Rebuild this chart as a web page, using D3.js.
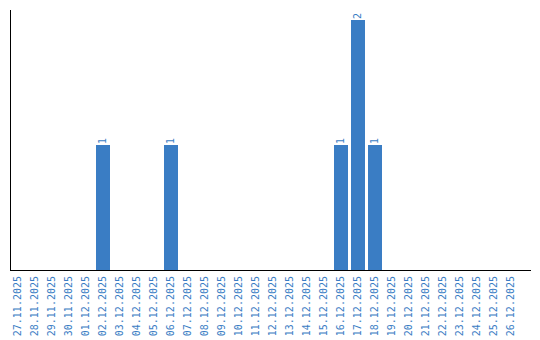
<!DOCTYPE html>
<html>
<head>
<meta charset="utf-8">
<script src="https://cdn.jsdelivr.net/npm/d3@7"></script>
<style>
  body { margin: 0; background: #fff; }
  text { font-family: "DejaVu Sans Mono", monospace; font-size: 10px; fill: #3a7dc4; }
</style>
</head>
<body>
<div id="chart"></div>
<script>
const dates = ["27.11.2025","28.11.2025","29.11.2025","30.11.2025","01.12.2025","02.12.2025",
  "03.12.2025","04.12.2025","05.12.2025","06.12.2025","07.12.2025","08.12.2025","09.12.2025",
  "10.12.2025","11.12.2025","12.12.2025","13.12.2025","14.12.2025","15.12.2025","16.12.2025",
  "17.12.2025","18.12.2025","19.12.2025","20.12.2025","21.12.2025","22.12.2025","23.12.2025",
  "24.12.2025","25.12.2025","26.12.2025"];
const counts = [0,0,0,0,0,1,0,0,0,1,0,0,0,0,0,0,0,0,0,1,2,1,0,0,0,0,0,0,0,0];

function init(){
    const width = 540, height = 340;
    const left = 11, right = 531, top = 10, bottom = 270;

    const svg = d3.select("#chart")
                  .append("svg")
                  .attr("width", width)
                  .attr("height", height);

    const data = dates.map((d, i) => ({ date: d, value: counts[i] }));

    const xScale = d3.scaleBand()
                     .domain(dates)
                     .range([left, right])
                     .paddingInner(3 / 17)
                     .paddingOuter(0.38235)
                     .align(0);

    const yScale = d3.scaleLinear()
                     .domain([0, 2.08])
                     .range([bottom, top]);

    // Bars
    svg.selectAll(".bar")
       .data(data.filter(d => d.value > 0))
       .enter()
       .append("rect")
       .attr("class", "bar")
       .attr("x", d => xScale(d.date))
       .attr("y", d => yScale(d.value))
       .attr("width", xScale.bandwidth())
       .attr("height", d => yScale(0) - yScale(d.value))
       .attr("fill", "#3a7dc4");

    // Value labels, rotated
    svg.selectAll(".val")
       .data(data.filter(d => d.value > 0))
       .enter()
       .append("text")
       .attr("class", "val")
       .attr("transform", d => `translate(${xScale(d.date) + xScale.bandwidth() / 2 + 3}, ${yScale(d.value) - 1}) rotate(-90)`)
       .attr("text-anchor", "start")
       .text(d => d.value);

    // Date labels, rotated
    svg.selectAll(".lbl")
       .data(dates)
       .enter()
       .append("text")
       .attr("class", "lbl")
       .attr("transform", d => `translate(${xScale(d) + xScale.bandwidth() / 2 + 2.5}, ${bottom + 6}) rotate(-90)`)
       .attr("text-anchor", "end")
       .text(d => d);

    // Axis lines
    svg.append("line")
       .attr("x1", left - 0.5).attr("x2", left - 0.5)
       .attr("y1", yScale(2.08)).attr("y2", bottom + 0.5)
       .attr("stroke", "#000");

    svg.append("line")
       .attr("x1", left - 1).attr("x2", right)
       .attr("y1", bottom + 0.5).attr("y2", bottom + 0.5)
       .attr("stroke", "#000");
}
window.onload = init;
</script>
</body>
</html>
